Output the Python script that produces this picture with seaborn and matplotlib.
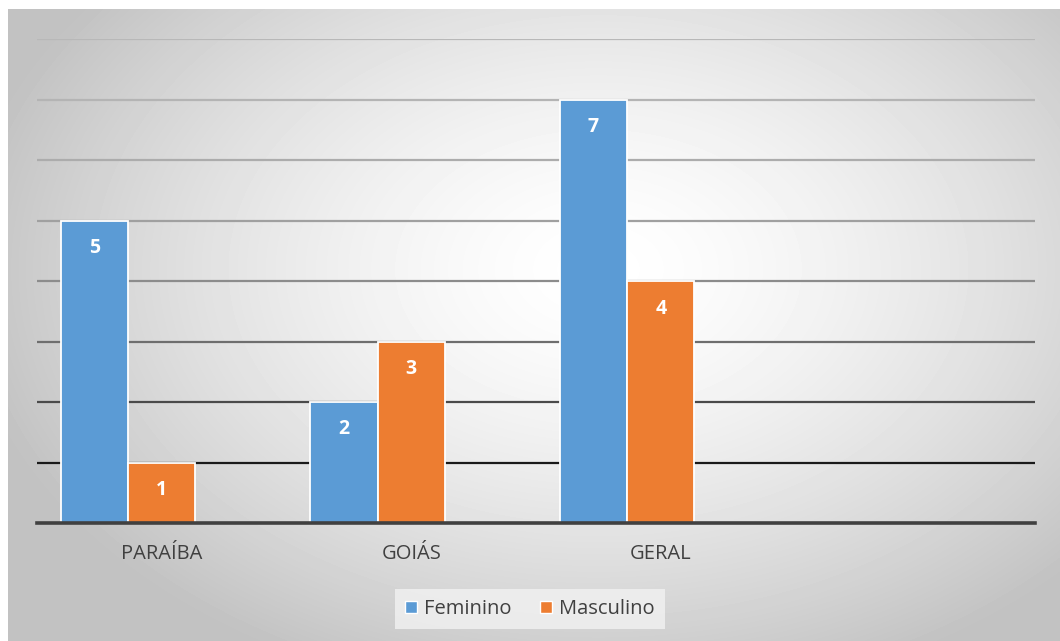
import numpy as np
import pandas as pd
import seaborn as sns
import matplotlib.pyplot as plt
from matplotlib.patches import Patch

# data
regioes = ["PARAÍBA", "GOIÁS", "GERAL"]
feminino = [5, 2, 7]
masculino = [1, 3, 4]
series = ["Feminino", "Masculino", " "]   # third (empty) series keeps Excel's bar spacing
extra_cat = ""                            # empty 4th category on the axis

df = pd.DataFrame({
    "regiao": regioes * 2,
    "sexo": ["Feminino"] * len(regioes) + ["Masculino"] * len(regioes),
    "n": feminino + masculino,
})

sns.set_style("white")
plt.rcParams["font.family"] = ["Open Sans", "DejaVu Sans"]

fig = plt.figure(figsize=(10.6, 6.41), dpi=100)
fig.patch.set_facecolor("white")

# radial gradient background of the chart area
bg = fig.add_axes([8 / 1060, 0, 1 - 8 / 1060, 1 - 9 / 641], zorder=-5)
yy, xx = np.mgrid[0:632, 0:1052]
d = np.sqrt(((xx - 590) / 640.0) ** 2 + ((yy - 260) / 440.0) ** 2)
d = np.clip(d, 0, 1)
shade = 1.0 - 0.24 * d ** 1.5
bg.imshow(shade, cmap="gray", vmin=0, vmax=1, aspect="auto", interpolation="bilinear")
bg.set_axis_off()

ax = fig.add_axes([37 / 1060, 1 - 523 / 641, (1035 - 37) / 1060, (523 - 39) / 641])
ax.set_facecolor("none")

pal = {"Feminino": "#5B9BD5", "Masculino": "#ED7D31", " ": "#A5A5A5"}
sns.barplot(data=df, x="regiao", y="n", hue="sexo", hue_order=series,
            order=regioes + [extra_cat], palette=pal, width=0.81,
            edgecolor="white", linewidth=1.3, saturation=1, legend=False,
            ax=ax, zorder=3)

for c in ax.containers:
    ax.bar_label(c, padding=-27, color="white", fontsize=14, fontweight="bold")

ax.set_ylim(0, 8)
ax.set_xlim(-0.5, 3.5)
ax.set_yticks(range(1, 9))
ax.set_yticklabels([])
ax.grid(axis="y", linewidth=1.6, zorder=0)
grid_cols = ["#1a1a1a", "#4a4a4a", "#6e6e6e", "#8c8c8c", "#a0a0a0", "#acacac", "#b4b4b4", "#b8b8b8"]
for gl, col in zip(ax.get_ygridlines(), grid_cols):
    gl.set_color(col)

for s in ["top", "right", "left"]:
    ax.spines[s].set_visible(False)
ax.spines["bottom"].set_color("#404040")
ax.spines["bottom"].set_linewidth(2.6)
ax.spines["bottom"].set_zorder(4)

ax.set_xlabel("")
ax.set_ylabel("")
ax.tick_params(axis="x", length=0, pad=15, labelsize=14.5, labelcolor="#404040")
ax.tick_params(axis="y", length=0)

handles = [Patch(facecolor=pal[s], edgecolor="white", linewidth=1) for s in series[:2]]
leg = fig.legend(handles, series[:2], loc="center", bbox_to_anchor=(530 / 1060, 1 - 609 / 641),
                 ncol=2, frameon=True, fontsize=14.5, handlelength=0.6, handleheight=0.6,
                 handletextpad=0.35, columnspacing=1.4, borderpad=0.5)
leg.get_frame().set_facecolor("#f2f2f2")
leg.get_frame().set_edgecolor("none")
leg.get_frame().set_boxstyle("square", pad=0)
for t in leg.get_texts():
    t.set_color("#404040")

fig.savefig("out.png", dpi=100)
